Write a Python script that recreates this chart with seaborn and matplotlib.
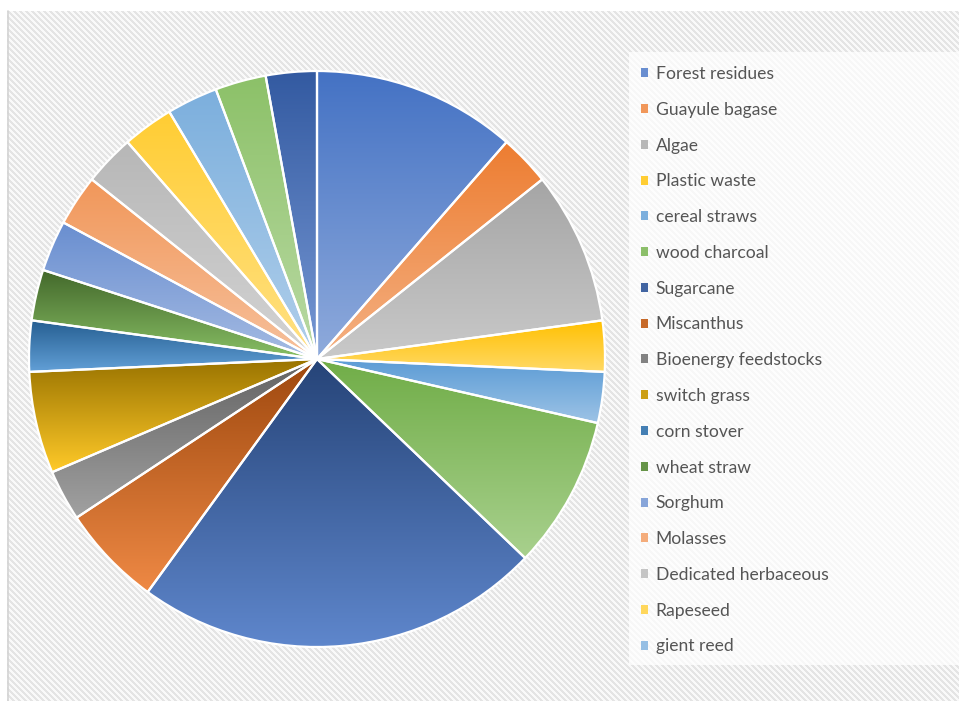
import colorsys
import numpy as np
import matplotlib
matplotlib.use('Agg')
import matplotlib.pyplot as plt
import matplotlib.colors as mcolors
from matplotlib.patches import Rectangle, Patch
from matplotlib.lines import Line2D
import seaborn as sns

# feedstock categories, clockwise from 12 o'clock
categories = ['Forest residues', 'Guayule bagase', 'Algae', 'Plastic waste',
              'cereal straws', 'wood charcoal', 'Sugarcane', 'Miscanthus',
              'Bioenergy feedstocks', 'switch grass', 'corn stover', 'wheat straw',
              'Sorghum', 'Molasses', 'Dedicated herbaceous', 'Rapeseed',
              'gient reed', 'slice 18', 'slice 19']
counts = [4, 1, 3, 1, 1, 3, 8, 2, 1, 2, 1, 1, 1, 1, 1, 1, 1, 1, 1]
n_legend = 17  # the legend only lists the first 17

# office chart palette
base_colors = ['#4472C4', '#ED7D31', '#A5A5A5', '#FFC000', '#5B9BD5', '#70AD47',
               '#264478', '#9E480E', '#636363', '#997300', '#255E91', '#43682B',
               '#698ED0', '#F1975A', '#B7B7B7', '#FFCD33', '#7CAFDD', '#8CC168',
               '#335AA1']

sns.set_theme(style='white')
plt.rcParams['font.family'] = ['Lato', 'DejaVu Sans']

W, H, DPI = 959, 701, 100
fig = plt.figure(figsize=(W / DPI, H / DPI), dpi=DPI)
fig.patch.set_facecolor('white')

# diagonal striped chart area
yy, xx = np.mgrid[0:H - 11, 0:W - 7]
stripe = ((xx - yy) % 6) < 3
bg = np.where(stripe, 0.895, 0.98)
fig.figimage(np.dstack([bg, bg, bg]), xo=7, yo=0, origin='upper', zorder=-2)
fig.add_artist(Line2D([7.5 / W, 7.5 / W], [0, (H - 11) / H], transform=fig.transFigure,
                      color='#d4d4d4', lw=1.2, zorder=-1))

# legend panel
fig.add_artist(Rectangle((629 / W, (H - 665) / H), (W - 629) / W, (665 - 52) / H,
                         transform=fig.transFigure, facecolor='white', alpha=0.72,
                         edgecolor='none', zorder=-1))

# pie
cx, cy, r = 317, 359, 288
lim = 1.03
half = r * lim
ax = fig.add_axes([(cx - half) / W, (H - cy - half) / H, 2 * half / W, 2 * half / H])
ax.set_facecolor('none')
ax.set_zorder(2)

pal = sns.color_palette(base_colors)
wedges, _ = ax.pie(counts, startangle=90, counterclock=False,
                   wedgeprops=dict(edgecolor='white', linewidth=1.6))

mid_colors = []
for w, c in zip(wedges, pal):
    top = mcolors.to_rgb(c)
    h, l, s = colorsys.rgb_to_hls(*top)
    bottom = colorsys.hls_to_rgb(h, l + (1 - l) * 0.4, s)
    mid_colors.append(tuple((np.array(top) + np.array(bottom)) / 2))
    th = np.radians(np.linspace(w.theta1, w.theta2, 200))
    px = np.concatenate([[w.center[0]], w.center[0] + w.r * np.cos(th)])
    py = np.concatenate([[w.center[1]], w.center[1] + w.r * np.sin(th)])
    grad = np.linspace(top, bottom, 256)[:, None, :]
    im = ax.imshow(grad, extent=[px.min(), px.max(), py.min(), py.max()],
                   origin='upper', aspect='auto', interpolation='bilinear', zorder=1)
    im.set_clip_path(w)
    w.set_facecolor('none')
    w.set_zorder(2)

ax.set_xlim(-lim, lim)
ax.set_ylim(-lim, lim)
ax.set_aspect('equal')
ax.axis('off')

handles = [Patch(facecolor=mid_colors[i], edgecolor='none') for i in range(n_legend)]
leg = fig.legend(handles, categories[:n_legend], loc='upper left',
                 bbox_to_anchor=(641 / W, (H - 66) / H), frameon=False,
                 fontsize=12.6, labelcolor='#555555', handlelength=0.42, handleheight=0.42,
                 handletextpad=0.42, labelspacing=1.13, borderpad=0, borderaxespad=0)
leg.set_zorder(3)

fig.savefig('out.png', dpi=DPI)
